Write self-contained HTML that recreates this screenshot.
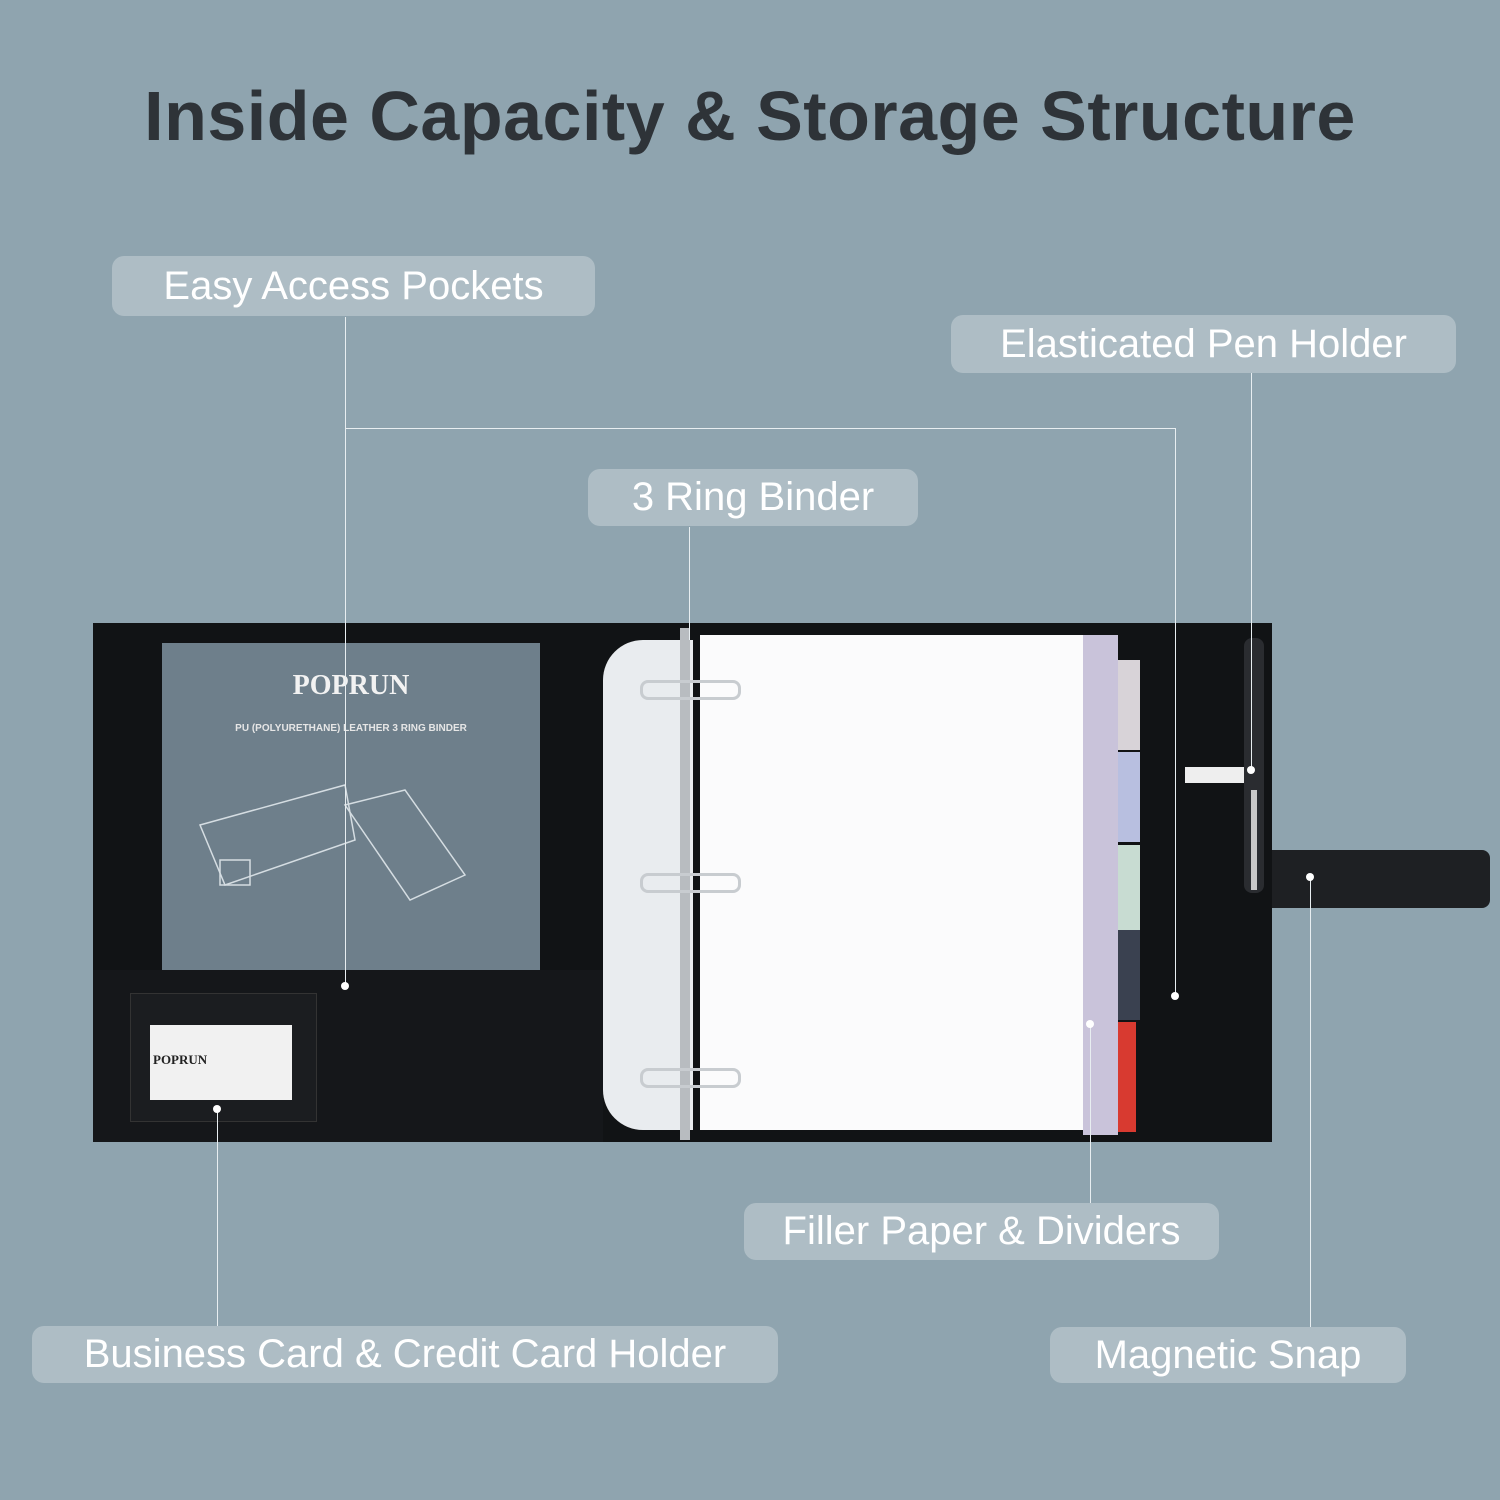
<!DOCTYPE html>
<html><head><style>
body{margin:0;width:1500px;height:1500px;background:#8fa4af;position:relative;overflow:hidden;font-family:"Liberation Sans",sans-serif}
.a{position:absolute}
.lab{position:absolute;background:#aebdc5;border-radius:12px;color:#fff;font-size:40px;display:flex;align-items:center;justify-content:center;white-space:nowrap}
.v{position:absolute;width:1px;background:#e8eef1}
.h{position:absolute;height:1px;background:#e8eef1}
.dot{position:absolute;width:8px;height:8px;border-radius:50%;background:#fff}
</style></head><body>
<div class="a" style="left:0;top:76px;width:1500px;text-align:center;font-size:70px;font-weight:bold;color:#2e3338;letter-spacing:0.5px">Inside Capacity &amp; Storage Structure</div>

<!-- binder -->
<div class="a" style="left:93px;top:623px;width:1179px;height:519px;background:#111315"></div>
<div class="a" style="left:93px;top:970px;width:510px;height:172px;background:#15171a"></div>
<div class="a" style="left:162px;top:643px;width:378px;height:327px;background:#6e7f8b"></div>
<div class="a" style="left:162px;top:670px;width:378px;text-align:center;color:#f2f2f2;font-family:'Liberation Serif',serif;font-size:28px;font-weight:bold">POPRUN</div>
<div class="a" style="left:162px;top:723px;width:378px;text-align:center;color:#e6e6e6;font-size:10px;font-weight:bold">PU (POLYURETHANE) LEATHER 3 RING BINDER</div>
<svg class="a" style="left:195px;top:780px" width="290" height="130"><g fill="none" stroke="#d5dde2" stroke-width="1.5"><polygon points="5,45 150,5 160,60 30,105"/><polygon points="150,25 210,10 270,95 215,120"/><rect x="25" y="80" width="30" height="25"/></g></svg>
<div class="a" style="left:130px;top:993px;width:185px;height:127px;background:#1b1d20;border:1px solid #333"></div>
<div class="a" style="left:150px;top:1025px;width:142px;height:75px;background:#f1f1f1"></div>
<div class="a" style="left:153px;top:1052px;font-family:'Liberation Serif',serif;font-size:13px;font-weight:bold;color:#222">POPRUN</div>
<div class="a" style="left:603px;top:640px;width:90px;height:490px;background:#e9ecef;border-radius:40px 0 0 40px"></div>
<div class="a" style="left:680px;top:628px;width:10px;height:512px;background:#b8bcc0"></div>
<div class="a" style="left:1083px;top:635px;width:35px;height:500px;background:#c9c3da"></div>
<div class="a" style="left:1118px;top:660px;width:22px;height:90px;background:#d8d3d8"></div>
<div class="a" style="left:1118px;top:752px;width:22px;height:90px;background:#b8bfe0"></div>
<div class="a" style="left:1118px;top:845px;width:22px;height:85px;background:#c8dcd2"></div>
<div class="a" style="left:1118px;top:930px;width:22px;height:90px;background:#3a4150"></div>
<div class="a" style="left:1118px;top:1022px;width:18px;height:110px;background:#d83a30"></div>
<div class="a" style="left:700px;top:635px;width:383px;height:495px;background:#fbfbfc"></div>
<div class="a" style="left:640px;top:680px;width:95px;height:14px;border:3px solid #c8ccd0;border-radius:8px"></div>
<div class="a" style="left:640px;top:873px;width:95px;height:14px;border:3px solid #c8ccd0;border-radius:8px"></div>
<div class="a" style="left:640px;top:1068px;width:95px;height:14px;border:3px solid #c8ccd0;border-radius:8px"></div>
<div class="a" style="left:1185px;top:767px;width:60px;height:16px;background:#eee"></div>
<div class="a" style="left:1244px;top:638px;width:20px;height:255px;background:#2a2c30;border-radius:8px"></div>
<div class="a" style="left:1251px;top:790px;width:6px;height:100px;background:#c8c8c8"></div>
<div class="a" style="left:1272px;top:850px;width:218px;height:58px;background:#1e2023;border-radius:0 8px 8px 0"></div>

<!-- connectors -->
<div class="v" style="left:345px;top:317px;height:668px"></div><div class="dot" style="left:341px;top:982px"></div>
<div class="h" style="left:345px;top:428px;width:830px"></div>
<div class="v" style="left:1175px;top:428px;height:567px"></div><div class="dot" style="left:1171px;top:992px"></div>
<div class="v" style="left:689px;top:527px;height:113px"></div>
<div class="v" style="left:1251px;top:373px;height:397px"></div><div class="dot" style="left:1247px;top:766px"></div>
<div class="v" style="left:1310px;top:877px;height:450px"></div><div class="dot" style="left:1306px;top:873px"></div>
<div class="v" style="left:1090px;top:1023px;height:180px"></div><div class="dot" style="left:1086px;top:1020px"></div>
<div class="v" style="left:217px;top:1108px;height:218px"></div><div class="dot" style="left:213px;top:1105px"></div>

<!-- labels -->
<div class="lab" style="left:112px;top:256px;width:483px;height:60px">Easy Access Pockets</div>
<div class="lab" style="left:951px;top:315px;width:505px;height:58px">Elasticated Pen Holder</div>
<div class="lab" style="left:588px;top:469px;width:330px;height:57px">3 Ring Binder</div>
<div class="lab" style="left:744px;top:1203px;width:475px;height:57px">Filler Paper &amp; Dividers</div>
<div class="lab" style="left:32px;top:1326px;width:746px;height:57px">Business Card &amp; Credit Card Holder</div>
<div class="lab" style="left:1050px;top:1327px;width:356px;height:56px">Magnetic Snap</div>
</body></html>
